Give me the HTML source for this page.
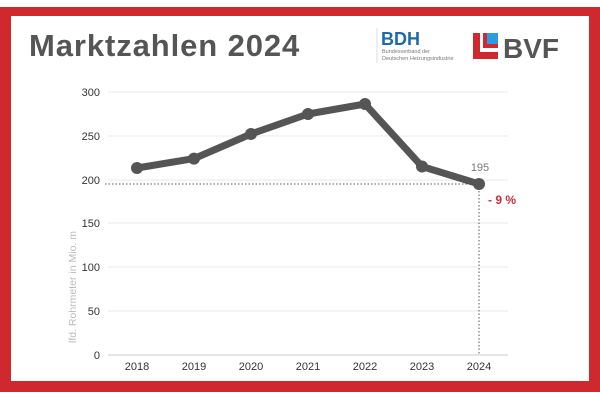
<!DOCTYPE html>
<html><head><meta charset="utf-8"><style>
body{margin:0;width:600px;height:400px;background:#fff;overflow:hidden;font-family:"Liberation Sans",sans-serif}
</style></head><body>
<svg width="600" height="400" xmlns="http://www.w3.org/2000/svg" font-family="Liberation Sans, sans-serif">
<rect x="0" y="7" width="600" height="385" fill="#d0282f"/>
<rect x="11" y="16" width="578" height="365" fill="#fff"/>
<text x="29" y="56" font-size="31" font-weight="bold" fill="#555" letter-spacing="0.9">Marktzahlen 2024</text>
<line x1="377" y1="28" x2="377" y2="63" stroke="#ddd"/>
<text x="381" y="45" font-size="18" font-weight="bold" fill="#1e6aa8">BDH</text>
<text x="382" y="53" font-size="5.5" fill="#777">Bundesverband der</text>
<text x="382" y="60" font-size="5.5" fill="#777">Deutschen Heizungsindustrie</text>
<rect x="473" y="33" width="25" height="26" fill="#d0282f"/>
<rect x="480" y="33" width="18" height="19" fill="#fff"/>
<rect x="483" y="33" width="15" height="15" fill="#d0282f"/>
<rect x="487" y="33" width="11" height="11" fill="#2d9be0"/>
<text x="503" y="58" font-size="28" font-weight="bold" fill="#555">BVF</text>
<g stroke="#e8e8e8" stroke-width="1">
<line x1="108" y1="92" x2="508" y2="92"/><line x1="108" y1="136" x2="508" y2="136"/>
<line x1="108" y1="180" x2="508" y2="180"/><line x1="108" y1="223" x2="508" y2="223"/>
<line x1="108" y1="267" x2="508" y2="267"/><line x1="108" y1="311" x2="508" y2="311"/>
</g>
<line x1="108" y1="355" x2="508" y2="355" stroke="#ccc"/>
<g font-size="11" fill="#333" text-anchor="end">
<text x="100" y="96">300</text><text x="100" y="140">250</text><text x="100" y="184">200</text>
<text x="100" y="227">150</text><text x="100" y="271">100</text><text x="100" y="315">50</text><text x="100" y="359">0</text>
</g>
<g font-size="11" fill="#333" text-anchor="middle">
<text x="137" y="370">2018</text><text x="194" y="370">2019</text><text x="251" y="370">2020</text>
<text x="308" y="370">2021</text><text x="365" y="370">2022</text><text x="422" y="370">2023</text><text x="479" y="370">2024</text>
</g>
<text transform="translate(76,287) rotate(-90)" font-size="10.5" fill="#bbb" text-anchor="middle">lfd. Rohrmeter in Mio. m</text>
<g stroke="#555" stroke-width="1" stroke-dasharray="1.5,2">
<line x1="105" y1="184" x2="479" y2="184"/><line x1="479" y1="184" x2="479" y2="354"/>
</g>
<polyline points="137,168 194,158.6 251,134 308,114 365,104 422,166.5 479,184" fill="none" stroke="#555" stroke-width="7" stroke-linejoin="round"/>
<g fill="#555">
<circle cx="137" cy="168" r="6"/><circle cx="194" cy="158.6" r="6"/><circle cx="251" cy="134" r="6"/>
<circle cx="308" cy="114" r="6"/><circle cx="365" cy="104" r="6"/><circle cx="422" cy="166.5" r="6"/><circle cx="479" cy="184" r="6"/>
</g>
<text x="480" y="171" font-size="11" fill="#777" text-anchor="middle">195</text>
<text x="488" y="204" font-size="12" font-weight="bold" fill="#c8303a">- 9 %</text>
</svg>
</body></html>
